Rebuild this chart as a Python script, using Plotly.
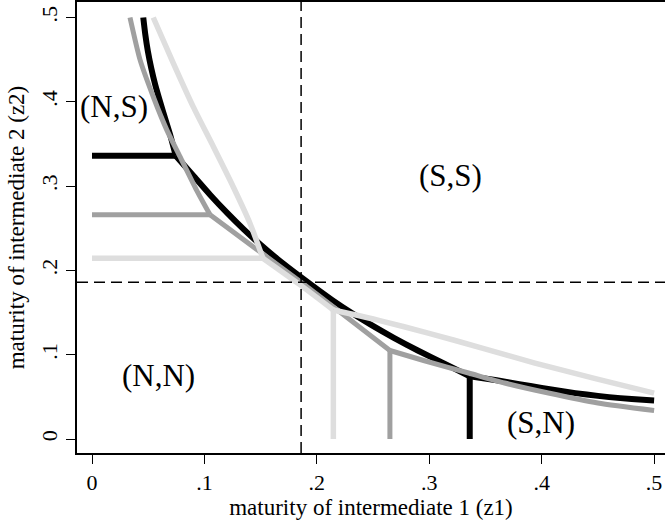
import plotly.graph_objects as go

# ---- data ----
# black series: upper curve (top -> kink), middle curve (kink -> kink), lower curve (kink -> right edge)
black_up_x = [0.0456, 0.0474, 0.0497, 0.0527, 0.0563, 0.0606, 0.0651, 0.0697, 0.0745]
black_up_y = [0.500, 0.480, 0.460, 0.440, 0.420, 0.400, 0.380, 0.360, 0.336]
black_mid_x = [0.0745, 0.0900, 0.1050, 0.1200, 0.1350, 0.1500, 0.1650, 0.1865,
               0.2135, 0.2304, 0.2487, 0.2685, 0.2898, 0.3126, 0.3360]
black_mid_y = [0.336, 0.3126, 0.2898, 0.2685, 0.2487, 0.2304, 0.2135, 0.1914,
               0.1650, 0.1500, 0.1350, 0.1200, 0.1050, 0.0900, 0.0745]
black_lo_x = [0.3360, 0.3600, 0.3800, 0.4000, 0.4200, 0.4400, 0.4600, 0.4800, 0.5000]
black_lo_y = [0.0745, 0.0697, 0.0651, 0.0606, 0.0563, 0.0527, 0.0497, 0.0474, 0.0456]

gray_up_x = [0.0338, 0.0427, 0.0545, 0.0664, 0.0783, 0.0931, 0.1050]
gray_up_y = [0.500, 0.450, 0.406, 0.367, 0.335, 0.295, 0.266]
gray_mid_x = [0.1050, 0.1860, 0.2650]
gray_mid_y = [0.266, 0.186, 0.105]
gray_lo_x = [0.2650, 0.2950, 0.3350, 0.3670, 0.4060, 0.4500, 0.5000]
gray_lo_y = [0.105, 0.0931, 0.0783, 0.0664, 0.0545, 0.0427, 0.0338]

light_up_x = [0.0545, 0.0723, 0.0901, 0.1079, 0.1257, 0.1405, 0.1520]
light_up_y = [0.500, 0.446, 0.394, 0.347, 0.299, 0.256, 0.2145]
light_mid_x = [0.1520, 0.1840, 0.2147]
light_mid_y = [0.2145, 0.1840, 0.1530]
light_lo_x = [0.2147, 0.2560, 0.2990, 0.3470, 0.3940, 0.4460, 0.5000]
light_lo_y = [0.1530, 0.1405, 0.1257, 0.1079, 0.0901, 0.0723, 0.0545]

# horizontal (z1 small) and vertical (z2 small) branches
black_h_x, black_h_y = [0.0, 0.0745], [0.336, 0.336]
black_v_x, black_v_y = [0.336, 0.336], [0.0, 0.0745]
gray_h_x, gray_h_y = [0.0, 0.105], [0.266, 0.266]
gray_v_x, gray_v_y = [0.265, 0.265], [0.0, 0.105]
light_h_x, light_h_y = [0.0, 0.152], [0.2145, 0.2145]
light_v_x, light_v_y = [0.2147, 0.2147], [0.0, 0.153]

threshold = 0.186

region_labels = ["(N,S)", "(S,S)", "(N,N)", "(S,N)"]
region_x = [0.020, 0.319, 0.059, 0.399]
region_y = [0.394, 0.313, 0.075, 0.020]

tick_vals = [0, 0.1, 0.2, 0.3, 0.4, 0.5]
tick_text = ["0", ".1", ".2", ".3", ".4", ".5"]

# ---- figure ----
FONT = "Liberation Serif, Times New Roman, serif"
series = [
    dict(col="#000000", w=6,
         segs=[(black_h_x, black_h_y), (black_v_x, black_v_y)],
         curves=[(black_up_x, black_up_y), (black_mid_x, black_mid_y), (black_lo_x, black_lo_y)]),
    dict(col="#a0a0a0", w=5,
         segs=[(gray_h_x, gray_h_y), (gray_v_x, gray_v_y)],
         curves=[(gray_up_x, gray_up_y), (gray_mid_x, gray_mid_y), (gray_lo_x, gray_lo_y)]),
    dict(col="#dedede", w=5.5,
         segs=[(light_h_x, light_h_y), (light_v_x, light_v_y)],
         curves=[(light_up_x, light_up_y), (light_mid_x, light_mid_y), (light_lo_x, light_lo_y)]),
]

fig = go.Figure()
for s in series:
    for sx, sy in s["segs"]:
        fig.add_trace(go.Scatter(x=sx, y=sy, mode="lines",
                                 line=dict(color=s["col"], width=s["w"]),
                                 showlegend=False, hoverinfo="skip"))
    for cx, cy in s["curves"]:
        fig.add_trace(go.Scatter(x=cx, y=cy, mode="lines",
                                 line=dict(color=s["col"], width=s["w"], shape="spline", smoothing=0.6),
                                 showlegend=False, hoverinfo="skip"))

fig.add_vline(x=threshold, line=dict(color="black", width=1.5, dash="11px,6px"))
fig.add_hline(y=threshold, line=dict(color="black", width=1.5, dash="11px,6px"))

for t, x, y in zip(region_labels, region_x, region_y):
    fig.add_annotation(x=x, y=y, text=t, showarrow=False,
                       font=dict(family=FONT, size=31, color="black"),
                       xanchor="center", yanchor="middle")

fig.update_layout(
    width=665, height=525,
    margin=dict(l=77, r=0, t=2, b=72),
    paper_bgcolor="white", plot_bgcolor="white",
    font=dict(family=FONT, color="black", size=22),
    showlegend=False,
)
fig.update_xaxes(
    range=[-0.01334, 0.5097], tickvals=tick_vals, ticktext=tick_text,
    ticks="outside", ticklen=9, tickwidth=1.3, tickcolor="black",
    showline=True, mirror=True, linecolor="black", linewidth=1.5,
    showgrid=False, zeroline=False,
    tickfont=dict(family=FONT, size=22, color="black"),
    title=dict(text="maturity of intermediate 1 (z1)", standoff=4,
               font=dict(family=FONT, size=23, color="black")),
)
fig.update_yaxes(
    range=[-0.0166, 0.5184], tickvals=tick_vals, ticktext=tick_text, tickangle=-90,
    ticks="outside", ticklen=9, tickwidth=1.3, tickcolor="black",
    showline=True, mirror=False, linecolor="black", linewidth=1.5,
    showgrid=False, zeroline=False,
    tickfont=dict(family=FONT, size=22, color="black"),
    title=dict(text="maturity of intermediate 2 (z2)", standoff=6,
               font=dict(family=FONT, size=23, color="black")),
)

fig.write_html("out.html")
